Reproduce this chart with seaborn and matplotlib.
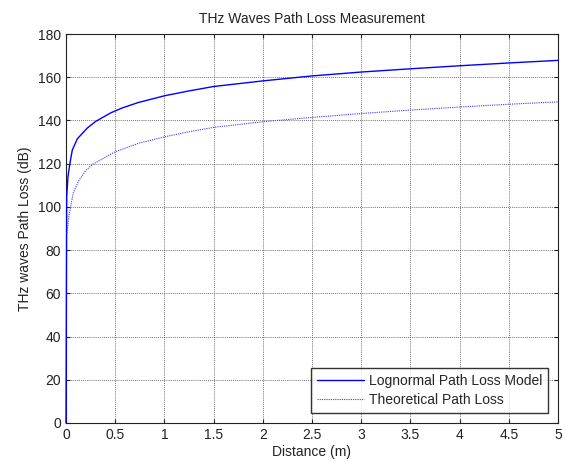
import matplotlib
matplotlib.use("Agg")
import matplotlib.pyplot as plt
import seaborn as sns
import pandas as pd

# Data
logn_d = [0, 0.007, 0.02, 0.041, 0.064, 0.115, 0.217, 0.30, 0.454, 0.572, 0.735, 1.0,
          1.243, 1.5, 2.0, 2.5, 3.0, 3.5, 4.0, 4.5, 5.0]
logn_pl = [0, 104.6, 114, 120.5, 126.3, 131.5, 136.5, 139.5, 143.5, 145.8, 148.3, 151.4,
           153.6, 155.7, 158.3, 160.6, 162.4, 163.9, 165.3, 166.6, 167.8]

theo_d = [0.01, 0.03, 0.074, 0.132, 0.2, 0.267, 0.5, 0.735, 1.0, 1.243, 1.5, 2.0, 2.5,
          3.0, 3.5, 4.0, 4.5, 5.0]
theo_pl = [88, 96, 106.5, 112.3, 116.8, 119.6, 125.5, 129.4, 132.4, 134.7, 136.8, 139.4, 141.4,
           143.2, 144.8, 146.2, 147.5, 148.6]

x_ticks = [0, 0.5, 1, 1.5, 2, 2.5, 3, 3.5, 4, 4.5, 5]
x_tick_labels = ["0", "0.5", "1", "1.5", "2", "2.5", "3", "3.5", "4", "4.5", "5"]
y_ticks = [0, 20, 40, 60, 80, 100, 120, 140, 160, 180]

sns.set_theme(style="ticks")
plt.rcParams['font.family'] = ['Liberation Sans', 'DejaVu Sans']

fig = plt.figure(figsize=(5.65, 4.62), dpi=100)
ax = fig.add_axes([66 / 565, 1 - 423 / 462, (558 - 66) / 565, (423 - 34) / 462])

df_l = pd.DataFrame({"d": logn_d, "pl": logn_pl})
df_t = pd.DataFrame({"d": theo_d, "pl": theo_pl})

sns.lineplot(data=df_l, x="d", y="pl", ax=ax, color="#0000ff", linewidth=1.0,
             sort=False, estimator=None, label="Lognormal Path Loss Model",
             zorder=3, clip_on=False)
sns.lineplot(data=df_t, x="d", y="pl", ax=ax, color="#3a3aff", linewidth=0.8,
             linestyle=(0, (1, 1)), sort=False, estimator=None,
             label="Theoretical Path Loss", zorder=3)

ax.set_xlim(0, 5)
ax.set_ylim(0, 180)
ax.set_xticks(x_ticks)
ax.set_xticklabels(x_tick_labels)
ax.set_yticks(y_ticks)
ax.grid(True, linestyle=(0, (1, 1.5)), color="#404040", linewidth=0.6)
ax.tick_params(direction="in", length=3, top=True, right=True, labelsize=10,
               colors="#222222", width=0.8)
for s in ax.spines.values():
    s.set_visible(True)
    s.set_color("#222222")
    s.set_linewidth(0.8)

ax.set_xlabel("Distance (m)", fontsize=10, labelpad=2, color="#222222")
ax.set_ylabel("THz waves Path Loss (dB)", fontsize=10, labelpad=4, color="#222222")
ax.set_title("THz Waves Path Loss Measurement", fontsize=10, pad=8, color="#222222")

leg = ax.legend(loc="lower right", fontsize=10, frameon=True, fancybox=False,
                borderpad=0.45, handlelength=3.4, handletextpad=0.3,
                labelspacing=0.35, borderaxespad=0.7)
leg.get_frame().set_edgecolor("#000000")
leg.get_frame().set_linewidth(1.0)
leg.set_zorder(5)

fig.savefig("out.png", dpi=100, facecolor="white")
